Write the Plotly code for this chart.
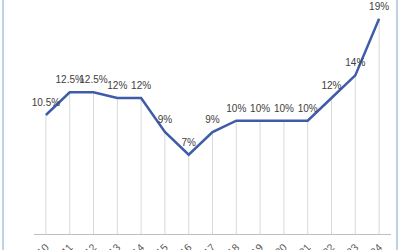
import plotly.graph_objects as go

years = [str(y) for y in range(2010, 2025)]
values = [10.5, 12.5, 12.5, 12, 12, 9, 7, 9, 10, 10, 10, 10, 12, 14, 19]
labels = ["10.5%", "12.5%", "12.5%", "12%", "12%", "9%", "7%", "9%", "10%", "10%", "10%", "10%", "12%", "14%", "19%"]

FONT = "Liberation Sans Narrow, Liberation Sans, Arial"

fig = go.Figure()
# drop lines
fig.add_trace(go.Scatter(
    x=years, y=values, mode="markers", marker=dict(size=0.1, color="rgba(0,0,0,0)"),
    error_y=dict(type="data", symmetric=False, array=[0] * len(values), arrayminus=values,
                 width=0, thickness=1, color="#d9d9d9"),
    hoverinfo="skip", showlegend=False, cliponaxis=False))
fig.add_trace(go.Scatter(
    x=years, y=values, mode="lines+markers+text", text=labels, textposition="top center",
    marker=dict(size=9, color="rgba(0,0,0,0)"),
    textfont=dict(family=FONT, size=10, color="#404040"),
    line=dict(color="#3f5ca8", width=2.5), showlegend=False, cliponaxis=False))

fig.update_layout(
    width=400, height=250, margin=dict(l=34, r=9, t=0, b=16),
    paper_bgcolor="white", plot_bgcolor="white",
    font=dict(family=FONT, color="#595959"),
    xaxis=dict(type="category", range=[-0.5, 14.5], showgrid=False, zeroline=False,
               showline=True, linecolor="#bfbfbf", linewidth=1, ticks="outside",
               ticklen=2, tickcolor="rgba(0,0,0,0)",
               tickangle=-45, tickfont=dict(size=10.5, color="#595959"), automargin=False),
    yaxis=dict(range=[0, 20.65], visible=False, fixedrange=True),
    shapes=[
        dict(type="line", xref="paper", yref="paper", x0=-0.0868, x1=-0.0868, y0=-0.2, y1=1.2,
             line=dict(color="#a9c4d8", width=1.5)),
        dict(type="line", xref="paper", yref="paper", x0=1.0168, x1=1.0168, y0=-0.2, y1=1.2,
             line=dict(color="#a9c4d8", width=1.5)),
    ],
)
fig.write_html("out.html")
